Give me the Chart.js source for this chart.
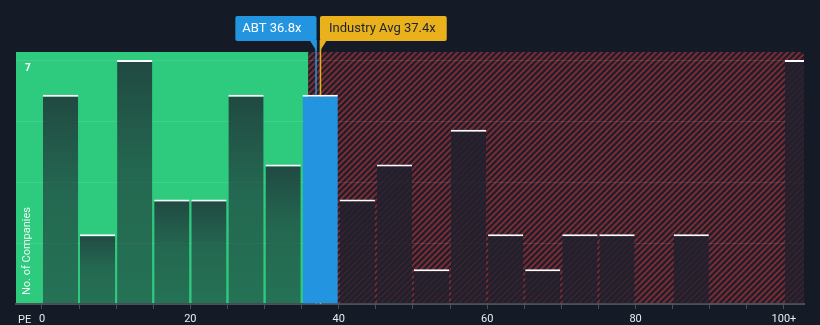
<!DOCTYPE html>
<html lang="en">
<head>
    <meta charset="UTF-8">
    <title>ABT PE vs Industry</title>
    <script src="https://cdn.jsdelivr.net/npm/chart.js"></script>
    <style>
        body {
            margin: 0;
            background-color: #151b26;
            font-family: Roboto, sans-serif;
        }
        .chart-box {
            position: relative;
            width: 820px;
            height: 325px;
        }
    </style>
</head>
<body>
    <div class="chart-box">
        <canvas id="peChart"></canvas>
    </div>

    <script>
        // PE bins of width 5, the last one is "100+"
        const binCenters = [2.5, 7.5, 12.5, 17.5, 22.5, 27.5, 32.5, 37.5, 42.5, 47.5, 52.5,
                            57.5, 62.5, 67.5, 72.5, 77.5, 82.5, 87.5, 92.5, 97.5, 102.5];
        const companyCounts = [6, 2, 7, 3, 3, 6, 4, 6, 3, 4, 1, 5, 2, 1, 2, 2, 0, 2, 0, 0, 7];
        const xTickValues = [0, 5, 10, 15, 20, 25, 30, 35, 40, 45, 50, 55, 60, 65, 70, 75, 80, 85, 90, 95, 100];
        const xTickLabels = { 0: '0', 20: '20', 40: '40', 60: '60', 80: '80', 100: '100+' };
        const yGridValues = [0, 1.75, 3.5, 5.25, 7];
        const abtPE = 36.8;
        const industryPE = 37.4;
        const fairLimit = 35.9; // green zone ends here

        const abtLabel = 'ABT 36.8x';
        const industryLabel = 'Industry Avg 37.4x';

        Chart.defaults.font.family = 'Roboto';

        // diagonal red stripes for the expensive zone
        function makeStripes() {
            const c = document.createElement('canvas');
            c.width = 6;
            c.height = 6;
            const g = c.getContext('2d');
            g.fillStyle = '#1e1e2a';
            g.fillRect(0, 0, 6, 6);
            g.strokeStyle = '#7a2c35';
            g.lineWidth = 2;
            g.beginPath();
            g.moveTo(0, 6); g.lineTo(6, 0);
            g.moveTo(-3, 3); g.lineTo(3, -3);
            g.moveTo(3, 9); g.lineTo(9, 3);
            g.stroke();
            return g.createPattern(c, 'repeat');
        }

        function barFill(context) {
            const chart = context.chart;
            if (!chart.chartArea || context.parsed == null) return '#1e3236';
            const xVal = context.parsed.x;
            if (abtPE >= xVal - 2.5 && abtPE < xVal + 2.5) return '#2394e0';
            const yScale = chart.scales.y;
            const top = yScale.getPixelForValue(context.parsed.y);
            const bottom = yScale.getPixelForValue(0);
            if (bottom - top < 1) return 'rgba(0,0,0,0)';
            const grad = chart.ctx.createLinearGradient(0, top, 0, bottom);
            if (xVal < fairLimit) {
                grad.addColorStop(0, 'rgba(30, 50, 55, 0.85)');
                grad.addColorStop(0.45, 'rgba(30, 50, 55, 0.65)');
                grad.addColorStop(1, 'rgba(30, 50, 55, 0.58)');
            } else {
                grad.addColorStop(0, 'rgba(32, 32, 44, 0.88)');
                grad.addColorStop(1, 'rgba(32, 32, 44, 0.74)');
            }
            return grad;
        }

        const zonesPlugin = {
            id: 'zones',
            beforeDraw(chart) {
                const { ctx, chartArea: a, scales: { x } } = chart;
                const split = x.getPixelForValue(fairLimit);
                ctx.save();
                ctx.fillStyle = '#2ecb7f';
                ctx.fillRect(a.left, a.top, split - a.left, a.bottom - a.top);
                ctx.fillStyle = makeStripes();
                ctx.beginPath();
                ctx.roundRect(split, a.top, a.right - split, a.bottom - a.top, [0, 4, 0, 0]);
                ctx.fill();
                ctx.restore();
            },
            beforeDatasetsDraw(chart) {
                const { ctx, chartArea: a, scales: { x } } = chart;
                ctx.save();
                ctx.lineWidth = 1.5;
                ctx.strokeStyle = '#2394e0';
                const xa = x.getPixelForValue(abtPE) + 1;
                ctx.beginPath(); ctx.moveTo(xa, 40); ctx.lineTo(xa, a.bottom); ctx.stroke();
                ctx.strokeStyle = '#e9b11c';
                const xi = x.getPixelForValue(industryPE) + 1;
                ctx.beginPath(); ctx.moveTo(xi, 40); ctx.lineTo(xi, a.bottom); ctx.stroke();
                ctx.restore();
            },
            afterDraw(chart) {
                const { ctx, scales: { x } } = chart;
                ctx.save();
                ctx.font = '13px Roboto';
                ctx.textBaseline = 'middle';

                // ABT tag, sits left of its line
                const xa = x.getPixelForValue(abtPE) + 1.5;
                const wa = ctx.measureText(abtLabel).width + 22;
                ctx.fillStyle = '#2394e0';
                ctx.beginPath();
                ctx.roundRect(xa - wa, 16, wa, 25, 2);
                ctx.fill();
                ctx.beginPath();
                ctx.moveTo(xa - 7, 40); ctx.lineTo(xa, 40); ctx.lineTo(xa, 51);
                ctx.fill();
                ctx.fillStyle = '#ffffff';
                ctx.fillText(abtLabel, xa - wa + 7, 29);

                // industry tag, sits right of its line
                const xi = x.getPixelForValue(industryPE) + 0.5;
                const wi = ctx.measureText(industryLabel).width + 20;
                ctx.fillStyle = '#e9b11c';
                ctx.beginPath();
                ctx.roundRect(xi, 16, wi, 25, 2);
                ctx.fill();
                ctx.beginPath();
                ctx.moveTo(xi, 40); ctx.lineTo(xi + 7, 40); ctx.lineTo(xi, 51);
                ctx.fill();
                ctx.fillStyle = '#1c2230';
                ctx.fillText(industryLabel, xi + 9, 29);

                // axis captions
                ctx.font = '11px Roboto';
                ctx.fillStyle = '#e8ecef';
                ctx.textAlign = 'left';
                ctx.fillText('PE', 18, 320);
                ctx.translate(27, 251);
                ctx.rotate(-Math.PI / 2);
                ctx.textAlign = 'center';
                ctx.fillStyle = 'rgba(255, 255, 255, 0.9)';
                ctx.fillText('No. of Companies', 0, 0);
                ctx.restore();
            }
        };

        const ctx = document.getElementById('peChart').getContext('2d');
        const peChart = new Chart(ctx, {
            type: 'bar',
            data: {
                datasets: [{
                    data: binCenters.map((c, i) => ({ x: c, y: companyCounts[i] })),
                    backgroundColor: barFill,
                    borderColor: '#ffffff',
                    borderWidth: { top: 2, left: 0, right: 0, bottom: 0 },
                    borderSkipped: 'start',
                    barPercentage: 0.95,
                    categoryPercentage: 1
                }]
            },
            options: {
                responsive: true,
                maintainAspectRatio: false,
                animation: false,
                layout: { padding: { left: 16, right: 16, top: 52, bottom: 0 } },
                plugins: {
                    legend: { display: false },
                    tooltip: { enabled: false }
                },
                scales: {
                    x: {
                        type: 'linear',
                        min: -3.5,
                        max: 102.7,
                        offset: false,
                        afterBuildTicks: axis => { axis.ticks = xTickValues.map(v => ({ value: v })); },
                        afterFit: axis => { axis.height = 21; },
                        grid: { drawOnChartArea: false, offset: false, tickLength: 5, color: '#4b505b' },
                        border: { color: '#4b505b', width: 2 },
                        ticks: {
                            color: '#e8ecef',
                            font: { size: 11 },
                            padding: 4,
                            maxRotation: 0,
                            autoSkip: false,
                            callback: v => xTickLabels[v] ?? ''
                        }
                    },
                    y: {
                        min: 0,
                        max: 7.23,
                        afterBuildTicks: axis => { axis.ticks = yGridValues.map(v => ({ value: v })); },
                        afterFit: axis => { axis.width = 0; },
                        grid: { color: 'rgba(255, 255, 255, 0.1)', drawTicks: false },
                        border: { display: false },
                        ticks: {
                            mirror: true,
                            padding: 9,
                            labelOffset: 8,
                            color: '#ffffff',
                            font: { size: 10, weight: 'bold' },
                            callback: v => (v === 7 ? '7' : '')
                        }
                    }
                }
            },
            plugins: [zonesPlugin]
        });
    </script>
</body>
</html>
